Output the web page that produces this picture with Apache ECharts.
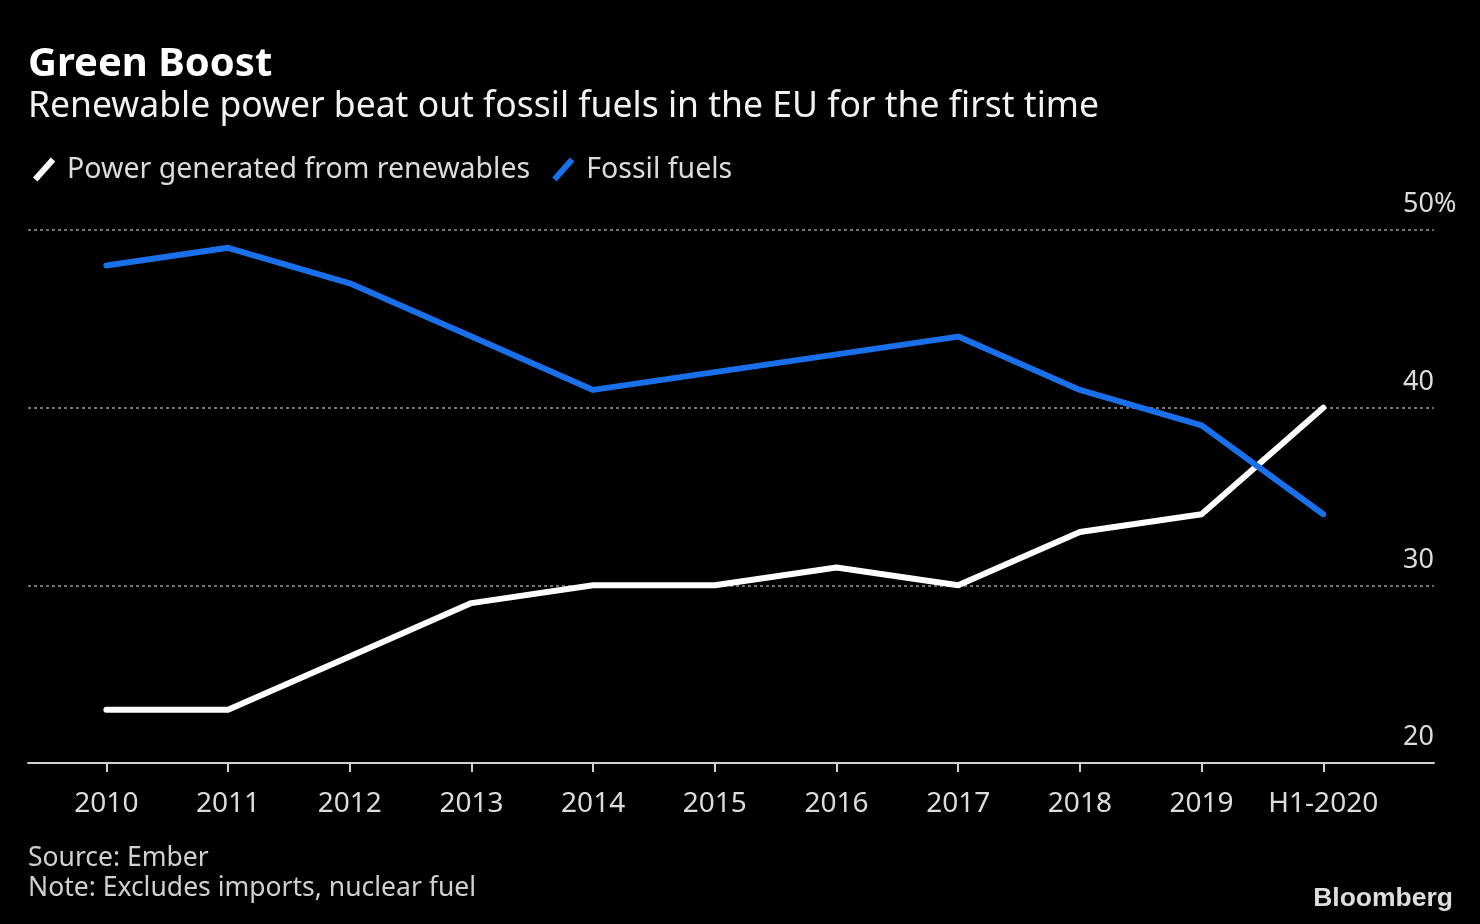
<!DOCTYPE html>
<html>
<head>
<meta charset="utf-8">
<script src="https://cdn.jsdelivr.net/npm/echarts@6/dist/echarts.min.js"></script>
<style>
html,body{margin:0;padding:0;background:#000;}
#chart{width:1480px;height:924px;}
</style>
</head>
<body>
<div id="chart"></div>
<script>
const categories = ['2010','2011','2012','2013','2014','2015','2016','2017','2018','2019','H1-2020'];
const renewables = [23, 23, 26, 29, 30, 30, 31, 30, 33, 34, 40];
const fossil = [48, 49, 47, 44, 41, 42, 43, 44, 41, 39, 34];
const yTicks = [20, 30, 40, 50];
const seriesNames = ['Power generated from renewables', 'Fossil fuels'];
const colors = ['#ffffff', '#1a70ea'];

const FONT = '"Noto Sans", "DejaVu Sans", sans-serif';
const chart = echarts.init(document.getElementById('chart'));
const icon = 'path://M0,9 L8,0 L10,1.8 L2,10.8 Z';
const idx = categories.map((c, i) => i);

chart.setOption({
  backgroundColor: '#000',
  animation: false,
  textStyle: { fontFamily: FONT },
  grid: { left: 28, right: 46, top: 230, bottom: 161, containLabel: false },
  legend: {
    left: 28, top: 150,
    icon: icon,
    itemWidth: 24, itemHeight: 24, itemGap: 22,
    textStyle: { color: '#dcdcdc', fontSize: 28.5, fontFamily: FONT, padding: [0, 0, 0, 6] },
    data: seriesNames
  },
  xAxis: {
    type: 'value',
    min: -0.644, max: 10.91,
    axisLine: { show: true, lineStyle: { color: '#d0d0d0', width: 2 } },
    axisTick: { show: true, customValues: idx, length: 9, lineStyle: { color: '#d0d0d0', width: 2 } },
    axisLabel: { customValues: idx, formatter: v => categories[Math.round(v)], color: '#dcdcdc', fontSize: 28, margin: 27, fontFamily: FONT },
    splitLine: { show: false }
  },
  yAxis: {
    type: 'value', position: 'right',
    min: yTicks[0], max: yTicks[yTicks.length - 1], interval: 10,
    axisLine: { show: false }, axisTick: { show: false },
    axisLabel: {
      inside: true, align: 'left', verticalAlign: 'bottom', margin: 31,
      color: '#dcdcdc', fontSize: 27, fontFamily: FONT, padding: [0, 0, 12, 0],
      formatter: v => v === 50 ? v + '%' : String(v)
    },
    splitLine: { show: true, lineStyle: { color: '#8f8f8f', type: [3, 3], width: 1.6 } }
  },
  series: [
    { name: seriesNames[0], type: 'line', data: renewables.map((v, i) => [i, v]), symbol: 'none',
      lineStyle: { color: colors[0], width: 6, cap: 'round', join: 'round' }, itemStyle: { color: colors[0] } },
    { name: seriesNames[1], type: 'line', data: fossil.map((v, i) => [i, v]), symbol: 'none',
      lineStyle: { color: colors[1], width: 6, cap: 'round', join: 'round' }, itemStyle: { color: colors[1] } }
  ],
  graphic: [
    { type: 'text', left: 28, top: 45, style: { text: 'Green Boost', fill: '#ffffff', font: 'bold 40px ' + FONT } },
    { type: 'text', left: 28, top: 89, style: { text: 'Renewable power beat out fossil fuels in the EU for the first time', fill: '#f2f2f2', font: '35.5px ' + FONT } },
    { type: 'text', left: 28, top: 845, style: { text: 'Source: Ember', fill: '#d0d0d0', font: '26.5px ' + FONT } },
    { type: 'text', left: 28, top: 875, style: { text: 'Note: Excludes imports, nuclear fuel', fill: '#d0d0d0', font: '26.5px ' + FONT } },
    { type: 'text', right: 27, top: 885, style: { text: 'Bloomberg', fill: '#dedede', font: 'bold 26.5px "Liberation Sans", Arial, sans-serif' } }
  ]
});
</script>
</body>
</html>
